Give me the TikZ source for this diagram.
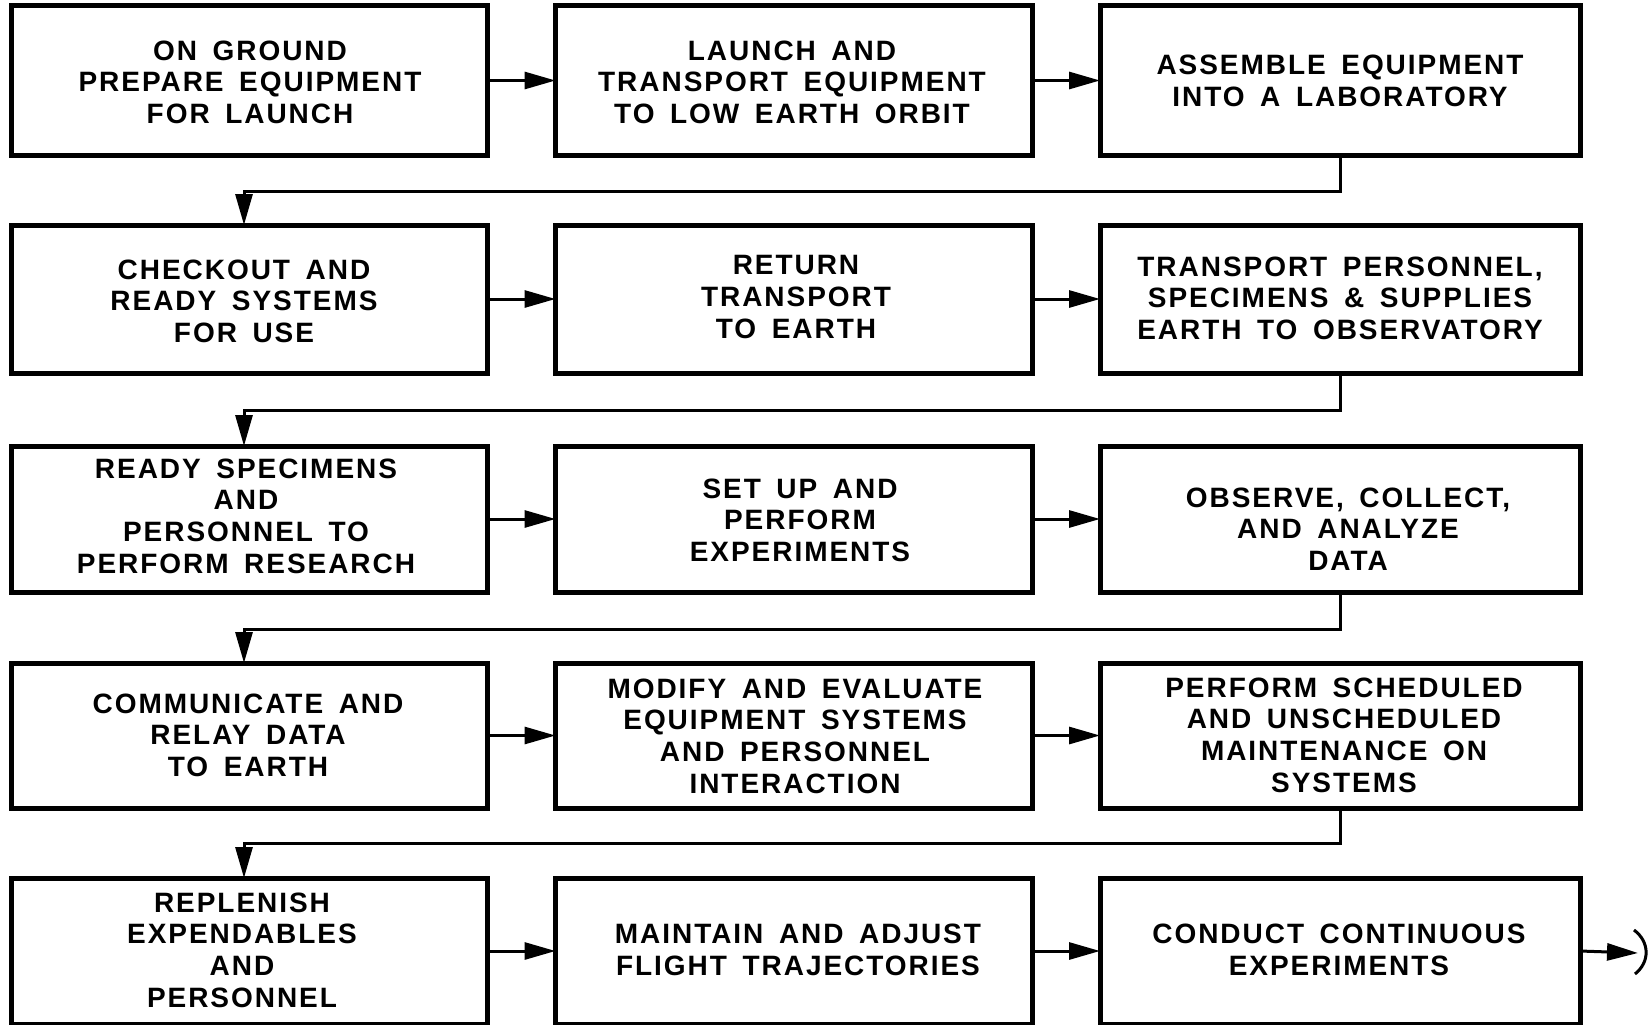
\documentclass[tikz,border=0pt]{standalone}
\usepackage{fontspec}
\setmainfont{Liberation Sans}[LetterSpace=7, WordSpace=1.6]
\usetikzlibrary{arrows.meta}

\tikzset{
  stagebox/.style={draw, rectangle, line width=5pt, inner sep=0pt, outer sep=0pt},
  colA/.style={minimum width=476pt},
  colB/.style={minimum width=477pt},
  colC/.style={minimum width=480pt},
  stagetext/.style={align=center, inner sep=0pt,
    font=\fontsize{28}{31.6}\selectfont\bfseries},
  flow/.style={line width=3pt, -{Triangle[length=31pt,width=17pt]}},
}

\begin{document}
\begin{tikzpicture}[x=1pt,y=-1pt]
\useasboundingbox (0,0) rectangle (1652,1025);
\clip (0,0) rectangle (1652,1025);

% boxes, row by row
\node[stagebox, colA, minimum height=149pt] (b11) at (249,80.5) {};
\node[stagebox, colB, minimum height=149pt] (b12) at (794,80.5) {};
\node[stagebox, colC, minimum height=149pt] (b13) at (1340,80.5) {};

\node[stagebox, colA, minimum height=148pt] (b21) at (249,299) {};
\node[stagebox, colB, minimum height=148pt] (b22) at (794,299) {};
\node[stagebox, colC, minimum height=148pt] (b23) at (1340,299) {};

\node[stagebox, colA, minimum height=146pt] (b31) at (249,519) {};
\node[stagebox, colB, minimum height=146pt] (b32) at (794,519) {};
\node[stagebox, colC, minimum height=146pt] (b33) at (1340,519) {};

\node[stagebox, colA, minimum height=145pt] (b41) at (249,735.5) {};
\node[stagebox, colB, minimum height=145pt] (b42) at (794,735.5) {};
\node[stagebox, colC, minimum height=145pt] (b43) at (1340,735.5) {};

\node[stagebox, colA, minimum height=146pt] (b51) at (249,951) {};
\node[stagebox, colB, minimum height=146pt] (b52) at (794,951) {};
\node[stagebox, colC, minimum height=146pt] (b53) at (1340,951) {};

% box texts
\node[stagetext] (t11) at (250,82)  {ON GROUND\\PREPARE EQUIPMENT\\FOR LAUNCH};
\node[stagetext] (t12) at (792,82)  {LAUNCH AND\\TRANSPORT EQUIPMENT\\TO LOW EARTH ORBIT};
\node[stagetext] (t13) at (1340,81) {ASSEMBLE EQUIPMENT\\INTO A LABORATORY};

\node[stagetext] (t21) at (244,301) {CHECKOUT AND\\READY SYSTEMS\\FOR USE};
\node[stagetext] (t22) at (796,297) {RETURN\\TRANSPORT\\TO EARTH};
\node[stagetext] (t23) at (1340,298) {TRANSPORT PERSONNEL,\\SPECIMENS \& SUPPLIES\\EARTH TO OBSERVATORY};

\node[stagetext] (t31) at (246,516) {READY SPECIMENS\\AND\\PERSONNEL TO\\PERFORM RESEARCH};
\node[stagetext] (t32) at (800,520) {SET UP AND\\PERFORM\\EXPERIMENTS};
\node[stagetext] (t33) at (1348,529) {OBSERVE, COLLECT,\\AND ANALYZE\\DATA};

\node[stagetext] (t41) at (248,735) {COMMUNICATE AND\\RELAY DATA\\TO EARTH};
\node[stagetext] (t42) at (795,736) {MODIFY AND EVALUATE\\EQUIPMENT SYSTEMS\\AND PERSONNEL\\INTERACTION};
\node[stagetext] (t43) at (1344,735) {PERFORM SCHEDULED\\AND UNSCHEDULED\\MAINTENANCE ON\\SYSTEMS};

\node[stagetext] (t51) at (242,950) {REPLENISH\\EXPENDABLES\\AND\\PERSONNEL};
\node[stagetext] (t52) at (798,950) {MAINTAIN AND ADJUST\\FLIGHT TRAJECTORIES};
\node[stagetext] (t53) at (1339,950) {CONDUCT CONTINUOUS\\EXPERIMENTS};

% arrows along each row
\foreach \r in {1,...,5}{
  \draw[flow] (b\r1.east) -- (b\r2.west);
  \draw[flow] (b\r2.east) -- (b\r3.west);
}

% return lines from the end of one row to the start of the next
\coordinate (j1) at (244,191);
\coordinate (j2) at (244,410);
\coordinate (j3) at (244,629);
\coordinate (j4) at (244,843);
\draw[flow] (b13.south) |- (j1) -- (j1 |- b21.north);
\draw[flow] (b23.south) |- (j2) -- (j2 |- b31.north);
\draw[flow] (b33.south) |- (j3) -- (j3 |- b41.north);
\draw[flow] (b43.south) |- (j4) -- (j4 |- b51.north);

% outgoing arrow and its end mark
\coordinate (out) at (1638,953);
\draw[flow] (b53.east) -- (out);
\draw[line width=3pt] (1634,930) .. controls (1650,942) and (1650,962) .. (1635,974);
\end{tikzpicture}
\end{document}
